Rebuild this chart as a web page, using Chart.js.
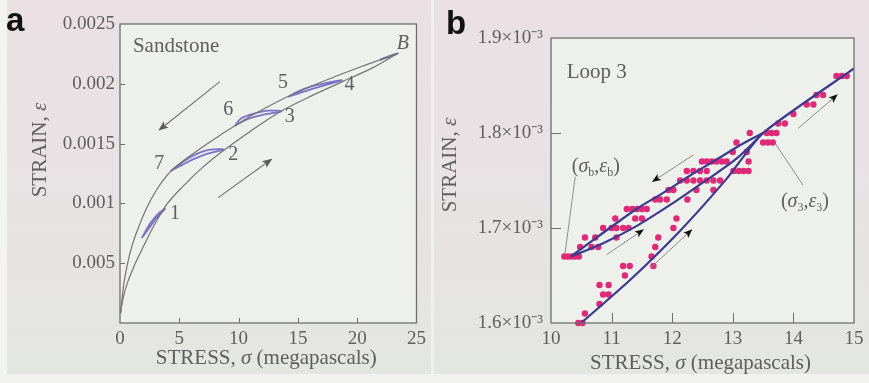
<!DOCTYPE html>
<html>
<head>
<meta charset="utf-8">
<script src="https://cdn.jsdelivr.net/npm/chart.js@4.4.0/dist/chart.umd.min.js"></script>
<style>
  html, body { margin: 0; padding: 0; }
  body {
    width: 869px; height: 383px; position: relative; overflow: hidden;
    background: linear-gradient(to bottom, #eae0e4 0%, #e8e2e4 40%, #e3e6e0 100%);
  }
  .edge-left { position: absolute; left: 0; top: 0; width: 7px; height: 383px; background: #f3f3f1; }
  .edge-bottom { position: absolute; left: 0; top: 374px; width: 869px; height: 9px; background: #f1f2ef; }
  .divider { position: absolute; left: 431px; top: 0; width: 3px; height: 374px; background: #efefed; }
  .panel { position: absolute; top: 0; }
  .tag { position: absolute; font-family: "Liberation Sans", Arial, sans-serif; font-weight: bold;
         font-size: 33px; line-height: 1; color: #111; }
</style>
</head>
<body>
<div class="edge-left"></div>
<div class="edge-bottom"></div>
<div class="divider"></div>
<canvas id="chartA" class="panel" style="left:0" width="431" height="383"></canvas>
<canvas id="chartB" class="panel" style="left:433px" width="436" height="383"></canvas>
<div class="tag" style="left:6px; top:3px">a</div>
<div class="tag" style="left:446px; top:6px">b</div>
<script>
// ---------- panel a : sandstone, stress vs strain ----------
const xTicksA = [0, 5, 10, 15, 20, 25];
const yTicksA = [0, 0.0005, 0.001, 0.0015, 0.002, 0.0025];
const yTickTextA = ['', '0.005', '0.001', '0.0015', '0.002', '0.0025'];

// loading path (lower curve), origin -> B
const loadStressA = [0, 0.42, 1.12, 1.83, 2.81, 3.93, 5.33, 7.01, 8.70, 10.94, 13.47, 16.27, 18.80, 21.32, 23.43];
const loadStrainA = [0.00008, 0.00027, 0.00046, 0.00061, 0.000805, 0.00099, 0.001145, 0.001305, 0.00144, 0.0016, 0.001765, 0.001905, 0.00202, 0.002135, 0.002255];
// unloading path (upper curve), read from origin up to B
const unloadStressA = [0.06, 0.3, 0.6, 1.0, 1.6, 2.24, 3.0, 3.7, 4.25, 5.0, 6.0, 7.3, 8.5, 9.7, 11.0, 12.1, 14.6, 18.0, 20.8, 23.43];
const unloadStrainA = [0.00008, 0.00031, 0.00048, 0.00064, 0.00081, 0.00096, 0.0011, 0.0012, 0.001265, 0.00133, 0.001405, 0.001495, 0.001575, 0.00165, 0.00173, 0.00179, 0.001915, 0.002055, 0.00216, 0.002255];

// small hysteresis loops (traced in purple)
const loopStressA = [
  [1.83, 2.5, 3.1, 3.79, 3.3, 2.6, 1.83],
  [4.25, 5.2, 6.2, 7.2, 8.7, 7.6, 6.6, 5.5, 4.25],
  [9.7, 10.9, 12.2, 13.6, 12.5, 11.3, 10.2, 9.7],
  [14.17, 15.5, 17.0, 18.7, 17.3, 16.0, 14.9, 14.17],
  [21.9, 22.7, 23.43, 22.8, 21.9]
];
const loopStrainA = [
  [0.00071, 0.0008, 0.00088, 0.000955, 0.00092, 0.00084, 0.00071],
  [0.00127, 0.00132, 0.00137, 0.00141, 0.00145, 0.00145, 0.00142, 0.00136, 0.00127],
  [0.00165, 0.00171, 0.001745, 0.00177, 0.001775, 0.00175, 0.00171, 0.00165],
  [0.00189, 0.001935, 0.00198, 0.00203, 0.002005, 0.001975, 0.00193, 0.00189],
  [0.0022, 0.002232, 0.002255, 0.002228, 0.002198]
];

const arrowUnloadA = { stress: [8.42, 3.31], strain: [0.002018, 0.001614] };
const arrowLoadA = { stress: [8.28, 12.77], strain: [0.001048, 0.001369] };

const labelTextA = ['Sandstone', '1', '2', '3', '4', '5', '6', '7', 'B'];
const labelStressA = [1.09, 4.63, 9.54, 14.31, 19.36, 13.75, 9.12, 3.31, 23.85];
const labelStrainA = [0.00231, 0.000917, 0.001405, 0.001725, 0.00199, 0.002009, 0.001781, 0.001335, 0.002339];

// ---------- panel b : loop 3 (strain in units of 10^-3) ----------
const xTicksB = [10, 11, 12, 13, 14, 15];
const yTicksB = [1.6, 1.7, 1.8, 1.9];

const dotStressB = [
  10.45, 10.52, 10.56, 10.80, 10.86, 10.95, 10.80, 10.95, 11.22, 11.19, 11.30, 11.69,
  10.22, 10.28, 10.34, 10.40, 10.46, 11.66,
  10.48, 10.67, 10.78, 11.72,
  10.56, 10.73, 11.08, 11.77,
  10.86, 11.00, 11.08, 11.19, 11.28, 12.02,
  11.06, 11.39, 11.50, 12.07,
  11.25, 11.34, 11.42, 11.50, 11.58,
  11.72, 11.80, 11.91, 12.25,
  11.94, 12.02, 12.40, 12.68,
  12.13, 12.24, 12.35, 12.46, 12.57, 12.68, 12.79,
  12.24, 12.35, 12.46, 12.57, 13.01, 13.10, 13.18, 13.26,
  12.49, 12.57, 12.65, 12.73, 12.82, 12.90, 13.26,
  13.00, 13.23,
  13.06, 13.50, 13.58, 13.66,
  13.28, 13.56, 13.64, 13.72,
  13.75, 13.86, 14.00, 14.22, 14.33, 14.38, 14.49, 14.71, 14.80, 14.88
];
const dotStrainB = [
  1.60, 1.60, 1.61, 1.62, 1.63, 1.63, 1.64, 1.64, 1.65, 1.66, 1.66, 1.66,
  1.67, 1.67, 1.67, 1.67, 1.67, 1.67,
  1.68, 1.68, 1.68, 1.68,
  1.69, 1.69, 1.69, 1.69,
  1.70, 1.70, 1.70, 1.70, 1.70, 1.70,
  1.71, 1.71, 1.71, 1.71,
  1.72, 1.72, 1.72, 1.72, 1.72,
  1.73, 1.73, 1.73, 1.73,
  1.74, 1.74, 1.74, 1.74,
  1.75, 1.75, 1.75, 1.75, 1.75, 1.75, 1.75,
  1.76, 1.76, 1.76, 1.76, 1.76, 1.76, 1.76, 1.76,
  1.77, 1.77, 1.77, 1.77, 1.77, 1.77, 1.77,
  1.78, 1.78,
  1.79, 1.79, 1.79, 1.79,
  1.80, 1.80, 1.80, 1.80,
  1.81, 1.81, 1.82, 1.83, 1.83, 1.84, 1.84, 1.86, 1.86, 1.86
];

// fitted lines
const loadStressB = [10.48, 11.3, 12.1, 12.9, 13.5, 15.0];
const loadStrainB = [1.599, 1.645, 1.695, 1.752, 1.8, 1.868];
const unloadStressB = [13.5, 13.17, 12.73, 12.29, 11.85, 11.41, 10.97, 10.56, 10.33];
const unloadStrainB = [1.8, 1.789, 1.772, 1.755, 1.737, 1.72, 1.7, 1.681, 1.67];
const reloadStressB = [10.33, 10.86, 11.41, 11.96, 12.51, 13.06, 13.5];
const reloadStrainB = [1.67, 1.684, 1.702, 1.724, 1.748, 1.773, 1.8];

const leaderB = [
  { stress: [10.40, 10.23], strain: [1.754, 1.673] },
  { stress: [13.70, 14.16], strain: [1.789, 1.745] }
];
const arrowsB = [
  { stress: [12.35, 11.68], strain: [1.777, 1.749] },
  { stress: [10.92, 11.52], strain: [1.672, 1.698] },
  { stress: [11.66, 12.32], strain: [1.659, 1.698] },
  { stress: [14.08, 14.72], strain: [1.805, 1.840] }
];

// ---------- helpers ----------
const SERIF = '"Liberation Serif", "Times New Roman", serif';
const TEXT = '#5e5e5e';

function pts(xs, ys) {
  return xs.map((x, i) => ({ x: x, y: ys[i] }));
}

function lineSet(xs, ys, color, width, extra) {
  return Object.assign({
    data: pts(xs, ys), showLine: true, borderColor: color, borderWidth: width,
    pointRadius: 0, tension: 0.35, fill: false
  }, extra || {});
}

// runs: [text, style] with style '' | 'i' | 'sub'
function drawRuns(ctx, runs, x, y, size, align) {
  const fontOf = st => (st === 'i' ? 'italic ' : '') + (st === 'sub' ? Math.round(size * 0.62) : size) + 'px ' + SERIF;
  let w = 0;
  runs.forEach(([t, st]) => { ctx.font = fontOf(st); w += ctx.measureText(t).width; });
  let cx = align === 'left' ? x : (align === 'right' ? x - w : x - w / 2);
  ctx.textAlign = 'left';
  ctx.textBaseline = 'middle';
  runs.forEach(([t, st]) => {
    ctx.font = fontOf(st);
    ctx.fillText(t, cx, st === 'sub' ? y + size * 0.3 : y);
    cx += ctx.measureText(t).width;
  });
}

// plot background, box and inward tick marks
const framePlugin = {
  id: 'frame',
  beforeDraw(chart, args, o) {
    const { ctx, chartArea: a } = chart;
    ctx.save();
    ctx.fillStyle = o.fill;
    ctx.fillRect(a.left, a.top, a.width, a.height);
    ctx.restore();
  },
  afterDraw(chart, args, o) {
    const { ctx, chartArea: a, scales } = chart;
    ctx.save();
    ctx.strokeStyle = o.color;
    ctx.lineWidth = 1.3;
    ctx.strokeRect(a.left, a.top, a.width, a.height);
    ctx.lineWidth = 1;
    ctx.beginPath();
    scales.x.ticks.slice(1, -1).forEach(t => {
      const p = Math.round(scales.x.getPixelForValue(t.value)) + 0.5;
      ctx.moveTo(p, a.bottom); ctx.lineTo(p, a.bottom - o.tick);
    });
    scales.y.ticks.slice(1, -1).forEach(t => {
      const p = Math.round(scales.y.getPixelForValue(t.value)) + 0.5;
      ctx.moveTo(a.left, p); ctx.lineTo(a.left + o.tick, p);
    });
    ctx.stroke();
    ctx.restore();
  }
};

// arrow heads on datasets carrying an "arrowHead" colour
const arrowPlugin = {
  id: 'arrows',
  afterDatasetsDraw(chart) {
    const ctx = chart.ctx;
    chart.data.datasets.forEach((ds, i) => {
      if (!ds.arrowHead) return;
      const pts = chart.getDatasetMeta(i).data;
      const p1 = pts[pts.length - 2], p2 = pts[pts.length - 1];
      const ang = Math.atan2(p2.y - p1.y, p2.x - p1.x);
      const L = ds.headSize || 8, W = L * 0.45;
      ctx.save();
      ctx.translate(p2.x, p2.y);
      ctx.rotate(ang);
      ctx.fillStyle = ds.arrowHead;
      ctx.beginPath();
      ctx.moveTo(1, 0); ctx.lineTo(-L, -W); ctx.lineTo(-L * 0.75, 0); ctx.lineTo(-L, W);
      ctx.closePath();
      ctx.fill();
      ctx.restore();
    });
  }
};

// annotation text in data coordinates + axis titles
const textPlugin = {
  id: 'texts',
  afterDraw(chart, args, o) {
    const { ctx, chartArea: a, scales } = chart;
    ctx.save();
    ctx.fillStyle = TEXT;
    (o.notes || []).forEach(n => {
      drawRuns(ctx, n.runs, scales.x.getPixelForValue(n.x), scales.y.getPixelForValue(n.y), n.size, n.align);
    });
    drawRuns(ctx, o.xTitle.runs, (a.left + a.right) / 2 + o.xTitle.dx, a.bottom + o.xTitle.dy, o.xTitle.size, 'center');
    ctx.translate(a.left + o.yTitle.dx, a.top + o.yTitle.dy);
    ctx.rotate(-Math.PI / 2);
    drawRuns(ctx, o.yTitle.runs, 0, 0, o.yTitle.size, 'center');
    ctx.restore();
  }
};

function baseOptions(cfg) {
  return {
    responsive: false,
    animation: false,
    events: [],
    layout: { padding: { top: cfg.top, right: cfg.right, bottom: 0, left: 0 } },
    scales: {
      x: {
        type: 'linear', min: cfg.xTicks[0], max: cfg.xTicks[cfg.xTicks.length - 1],
        afterBuildTicks: s => { s.ticks = cfg.xTicks.map(v => ({ value: v })); },
        afterFit: s => { s.height = cfg.xHeight; },
        grid: { display: false, drawTicks: false },
        border: { display: false },
        ticks: { color: TEXT, padding: 5, maxRotation: 0, font: { family: SERIF, size: 19 } }
      },
      y: {
        type: 'linear', min: cfg.yTicks[0], max: cfg.yTicks[cfg.yTicks.length - 1],
        afterBuildTicks: s => { s.ticks = cfg.yTicks.map(v => ({ value: v })); },
        afterFit: s => { s.width = cfg.yWidth; },
        grid: { display: false, drawTicks: false },
        border: { display: false },
        ticks: { color: TEXT, padding: cfg.yPad, font: { family: SERIF, size: 19 }, callback: cfg.yLabel }
      }
    },
    plugins: {
      legend: { display: false },
      tooltip: { enabled: false },
      frame: { fill: '#eef0ec', color: '#6f6f6f', tick: cfg.tick },
      texts: cfg.texts
    }
  };
}

// ---------- chart a ----------
const CURVE = '#747474';
const LOOP = 'rgba(104, 92, 190, 0.85)';
const dsA = [
  lineSet(loadStressA, loadStrainA, CURVE, 1.2, { cubicInterpolationMode: 'monotone' }),
  lineSet(unloadStressA, unloadStrainA, CURVE, 1.2, { cubicInterpolationMode: 'monotone' })
];
loopStressA.forEach((xs, i) => dsA.push(lineSet(xs, loopStrainA[i], LOOP, 1.8, { tension: 0.3 })));
[arrowUnloadA, arrowLoadA].forEach(ar => dsA.push(lineSet(ar.stress, ar.strain, '#707070', 1.1,
  { tension: 0, arrowHead: '#5a5a5a', headSize: 9 })));

const notesA = labelTextA.map((t, i) => ({
  x: labelStressA[i], y: labelStrainA[i],
  runs: [[t, t === 'B' ? 'i' : '']],
  size: t === 'Sandstone' ? 21 : 20,
  align: t === 'Sandstone' ? 'left' : 'center'
}));

new Chart(document.getElementById('chartA'), {
  type: 'scatter',
  data: { datasets: dsA },
  options: baseOptions({
    top: 24, right: 14, xHeight: 60, yWidth: 120, yPad: 5, tick: 5,
    xTicks: xTicksA, yTicks: yTicksA,
    yLabel: (v, i) => yTickTextA[i],
    texts: {
      notes: notesA,
      xTitle: { runs: [['STRESS, ', ''], ['σ', 'i'], [' (megapascals)', '']], dx: -2, dy: 35, size: 21 },
      yTitle: { runs: [['STRAIN, ', ''], ['ε', 'i']], dx: -80, dy: 126, size: 21 }
    }
  }),
  plugins: [framePlugin, arrowPlugin, textPlugin]
});

// ---------- chart b ----------
const FIT = '#3c3a8e';
const dsB = [
  lineSet(loadStressB, loadStrainB, FIT, 2.2, { tension: 0.2 }),
  lineSet(unloadStressB, unloadStrainB, FIT, 2.2, { tension: 0.3 }),
  lineSet(reloadStressB, reloadStrainB, FIT, 2.2, { tension: 0.3 })
];
leaderB.forEach(l => dsB.push(lineSet(l.stress, l.strain, '#8e8e8e', 1, { tension: 0 })));
arrowsB.forEach(ar => dsB.push(lineSet(ar.stress, ar.strain, '#8a8a8a', 1, { tension: 0, arrowHead: '#111', headSize: 8 })));
dsB.push({
  data: pts(dotStressB, dotStrainB), showLine: false, pointRadius: 3.2, pointBorderWidth: 0,
  pointBackgroundColor: '#df2a78', order: 1, clip: false
});

new Chart(document.getElementById('chartB'), {
  type: 'scatter',
  data: { datasets: dsB },
  options: baseOptions({
    top: 38, right: 15, xHeight: 60, yWidth: 118, yPad: 8, tick: 10,
    xTicks: xTicksB, yTicks: yTicksB,
    yLabel: v => v.toFixed(1) + '×10⁻³',
    texts: {
      notes: [
        { x: 10.26, y: 1.864, runs: [['Loop 3', '']], size: 21, align: 'left' },
        { x: 10.74, y: 1.764, runs: [['(', ''], ['σ', 'i'], ['b', 'sub'], [',', ''], ['ε', 'i'], ['b', 'sub'], [')', '']], size: 20, align: 'center' },
        { x: 14.19, y: 1.728, runs: [['(', ''], ['σ', 'i'], ['3', 'sub'], [',', ''], ['ε', 'i'], ['3', 'sub'], [')', '']], size: 20, align: 'center' }
      ],
      xTitle: { runs: [['STRESS, ', ''], ['σ', 'i'], [' (megapascals)', '']], dx: -2, dy: 40, size: 21 },
      yTitle: { runs: [['STRAIN, ', ''], ['ε', 'i']], dx: -101, dy: 127, size: 21 }
    }
  }),
  plugins: [framePlugin, arrowPlugin, textPlugin]
});
</script>
</body>
</html>
